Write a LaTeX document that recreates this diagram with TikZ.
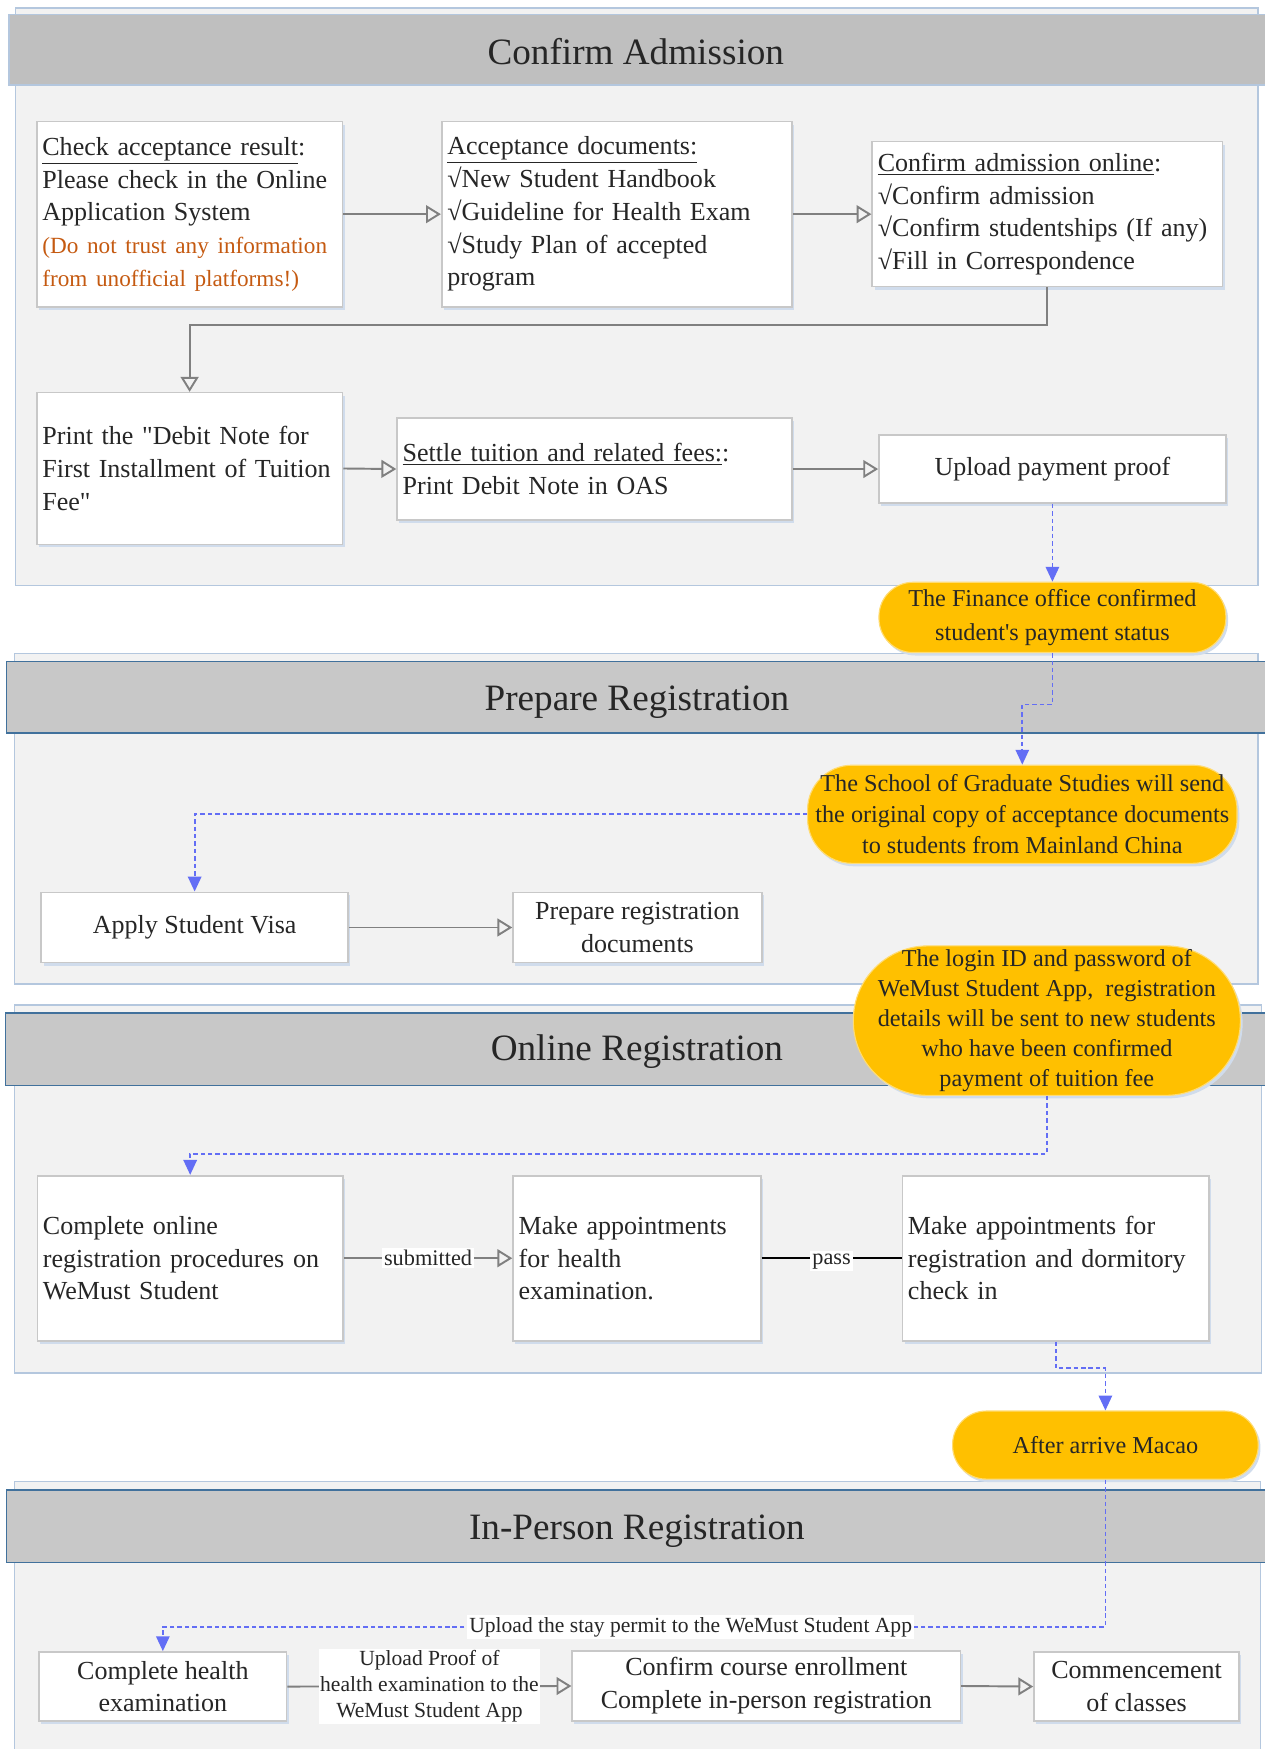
\documentclass[tikz,border=0pt]{standalone}
\usepackage{fontspec}
\setmainfont{Liberation Serif}[Ligatures=TeXOff]
\usetikzlibrary{arrows.meta,shadows}

\definecolor{secfill}{RGB}{242,242,242}
\definecolor{secline}{RGB}{180,199,222}
\definecolor{headfill}{RGB}{191,191,191}
\definecolor{headfillb}{RGB}{200,200,200}
\definecolor{headline}{RGB}{65,113,156}
\definecolor{boxline}{RGB}{200,200,200}
\definecolor{txtdark}{RGB}{38,38,38}
\definecolor{warnorange}{RGB}{197,90,17}
\definecolor{flowgray}{RGB}{128,128,128}
\definecolor{notice}{RGB}{255,192,0}
\definecolor{linkblue}{RGB}{99,110,245}
\definecolor{shadowblue}{RGB}{208,220,236}

\tikzset{every picture/.style={line width=0.75pt}}
\tikzset{
  secbody/.style={draw=secline, fill=secfill, line width=1pt},
  headbar/.style={draw=headline, fill=headfillb, line width=1pt},
  headbarpale/.style={draw=secline, fill=headfill, line width=1pt},
  sectitle/.style={anchor=base, text=txtdark, font=\fontsize{25}{30}\selectfont},
  softshadow/.style={drop shadow={shadow xshift=1.5pt, shadow yshift=-2pt, fill=shadowblue, opacity=1}},
  stepbox/.style={draw=boxline, fill=white, line width=1.1pt, text=txtdark, inner xsep=3.75pt, inner ysep=1pt, font=\fontsize{17.5}{22}\selectfont, softshadow},
  notebox/.style={draw=notice!55!white, fill=notice, line width=0.75pt, text=txtdark, align=center, inner sep=1pt, font=\fontsize{16.3}{21}\selectfont, softshadow},
  tag/.style={fill=white, inner sep=1.5pt, text=txtdark, font=\fontsize{15}{17}\selectfont},
  prooftag/.style={fill=white, inner sep=1pt, align=center, text=txtdark, font=\fontsize{14.5}{17.6}\selectfont},
  flow/.style={draw=flowgray, line width=1.3pt, -{Triangle[open,length=10pt,width=12pt]}},
  notify/.style={draw=linkblue, line width=1.2pt, dash pattern=on 3pt off 2pt, -{Triangle[length=10pt,width=9pt]}},
  passline/.style={draw=black, line width=1pt}
}

\begin{document}
\begin{tikzpicture}[x=0.75pt,y=0.75pt,yscale=-1,xscale=1]
\useasboundingbox (0,0) rectangle (1134,1568);

% sections
\draw [secbody] (14,7) rectangle (1128,525);
\draw [headbarpale] (8,13) rectangle (1140,76);
\node [sectitle] (title-admit) at (570,57.5) {Confirm Admission};

\draw [secbody] (13,586) rectangle (1128,882);
\draw [headbar] (6,593) rectangle (1140,657);
\node [sectitle] (title-prepare) at (571,637) {Prepare Registration};

\draw [secbody] (13,901) rectangle (1131,1231);
\draw [headbar] (5,908) rectangle (1140,973);
\node [sectitle] (title-online) at (571,951) {Online Registration};

\draw [secbody] (13,1328) rectangle (1130,1580);
\draw [headbar] (6,1336) rectangle (1140,1401);
\node [sectitle] (title-person) at (571,1380) {In-Person Registration};

% Confirm Admission
\node [stepbox, minimum width=205.5pt, minimum height=124.5pt, text width=198pt, align=left] (check) at (170,192)
  {\underline{Check acceptance result}:\\ Please check in the Online\\ Application System\\ \color{warnorange}\fontsize{15.6}{22}\selectfont(Do not trust any information\\ from unofficial platforms!)};
\node [stepbox, minimum width=235.5pt, minimum height=124.5pt, text width=228pt, align=left] (docs) at (553,192)
  {\underline{Acceptance documents:}\\ √New Student Handbook\\ √Guideline for Health Exam\\ √Study Plan of accepted\\ program};
\node [stepbox, minimum width=235.5pt, minimum height=97.5pt, text width=228pt, align=left] (admit) at (939,192)
  {\underline{Confirm admission online}:\\ √Confirm admission\\ √Confirm studentships (If any)\\ √Fill in Correspondence};
\node [stepbox, minimum width=205.5pt, minimum height=102pt, text width=198pt, align=left] (print) at (170,420)
  {Print the "Debit Note for\\ First Installment of Tuition\\ Fee"};
\node [stepbox, minimum width=265.5pt, minimum height=68.25pt, text width=258pt, align=left] (settle) at (533,420.5)
  {\underline{Settle tuition and related fees:}:\\ Print Debit Note in OAS};
\node [stepbox, minimum width=233.25pt, minimum height=45.75pt, align=center] (upload) at (943.5,420.5)
  {Upload payment proof};
\node [notebox, minimum width=233.25pt, minimum height=47.25pt, rounded corners=23pt, font=\fontsize{16.3}{22.5}\selectfont] (finance) at (943.5,553.5)
  {The Finance office confirmed\\ student's payment status};

% Prepare Registration
\node [notebox, minimum width=288.75pt, minimum height=66pt, rounded corners=30pt] (sgs) at (916.5,730)
  {The School of Graduate Studies will send\\ the original copy of acceptance documents\\ to students from Mainland China};
\node [stepbox, minimum width=206.25pt, minimum height=47.25pt, align=center] (visa) at (174.5,831.5)
  {Apply Student Visa};
\node [stepbox, minimum width=167.25pt, minimum height=47.25pt, align=center] (prepdocs) at (571.5,831.5)
  {Prepare registration\\ documents};

% Online Registration
\node [notebox, minimum width=260.25pt, minimum height=100.5pt, rounded corners=50pt, font=\fontsize{16.3}{20.3}\selectfont] (login) at (938.5,915)
  {The login ID and password of\\ WeMust Student App,\ \ registration\\ details will be sent to new students\\ who have been confirmed\\ payment of tuition fee};
\node [stepbox, minimum width=205.5pt, minimum height=111pt, text width=198pt, align=left] (onlinereg) at (170.5,1128)
  {Complete online\\ registration procedures on\\ WeMust Student};
\node [stepbox, minimum width=166.5pt, minimum height=111pt, text width=159pt, align=left] (healthappt) at (571,1128)
  {Make appointments\\ for health\\ examination.};
\node [stepbox, minimum width=206.25pt, minimum height=111pt, text width=198.75pt, align=left] (dormappt) at (946.5,1128)
  {Make appointments for\\ registration and dormitory\\ check in};
\node [notebox, minimum width=205.5pt, minimum height=45.75pt, rounded corners=22.5pt] (macao) at (991,1295.5)
  {After arrive Macao};

% In-Person Registration
\node [stepbox, minimum width=166.5pt, minimum height=46.5pt, align=center] (health) at (146,1512)
  {Complete health\\ examination};
\node [stepbox, minimum width=261pt, minimum height=47.25pt, align=center] (course) at (687,1511.5)
  {Confirm course enrollment\\ Complete in-person registration};
\node [stepbox, minimum width=138pt, minimum height=46.5pt, align=center] (commence) at (1019,1512)
  {Commencement\\ of classes};

% connectors
\draw [flow] (check.east) -- (docs.west);
\draw [flow] (docs.east) -- (admit.west);
\draw [flow] (admit.south) -- ++(0,34) -| (print.north);
\draw [flow] (print.east) -- (settle.west);
\draw [flow] (settle.east) -- (upload.west);
\draw [notify] (upload.south) -- (finance.north);
\draw [notify] (finance.south) -- ++(0,46) -| (sgs.north);
\draw [notify] (sgs.west) -| (visa.north);
\draw [flow] (visa.east) -- (prepdocs.west);
\draw [notify] (login.south) -- ++(0,52) -| (onlinereg.north);
\draw [flow] (onlinereg.east) -- node [tag] (tag-submit) {submitted} (healthappt.west);
\draw [passline] (healthappt.east) -- node [tag, yshift=-2pt] (tag-pass) {pass} (dormappt.west);
\draw [notify] (dormappt.south) -- ++(0,24) -| (macao.north);
\draw [notify] (macao.south) -- ++(0,132) -| node [tag, pos=0.22, font=\fontsize{14.5}{17}\selectfont] (tag-permit) {Upload the stay permit to the WeMust Student App} (health.north);
\draw [flow] (health.east) -- node [prooftag] (tag-proof) {Upload Proof of\\ health examination to the\\ WeMust Student App} (course.west);
\draw [flow] (course.east) -- (commence.west);
\end{tikzpicture}
\end{document}
